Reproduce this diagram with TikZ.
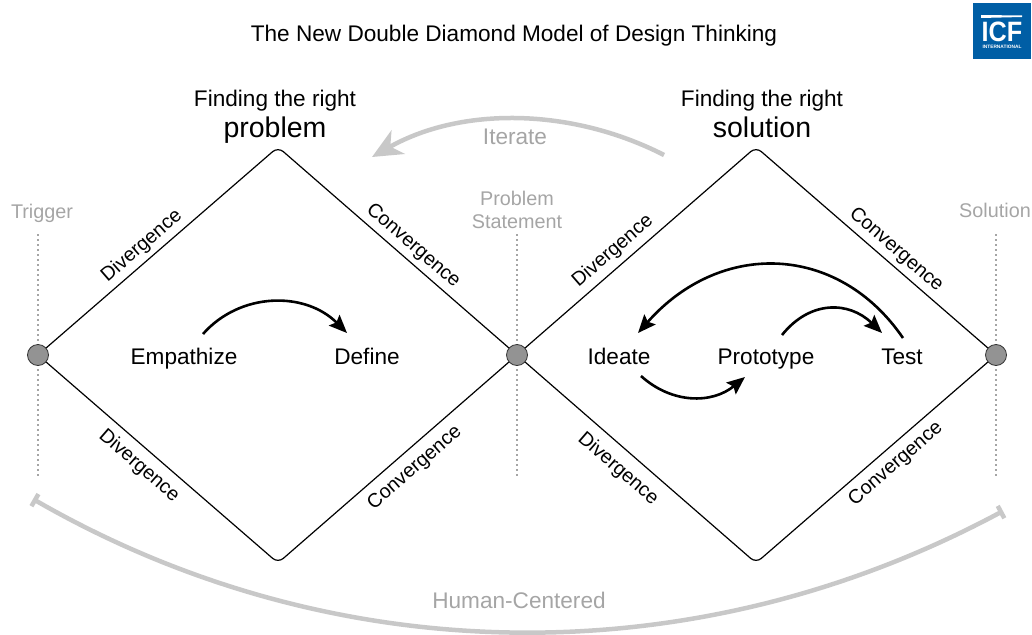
\documentclass[tikz,border=0pt]{standalone}
\usepackage{fontspec}
\setmainfont{Liberation Sans}
\usetikzlibrary{positioning,arrows,arrows.meta}
\definecolor{icfblue}{RGB}{0,94,165}
\definecolor{softgray}{RGB}{165,165,165}
\definecolor{bargray}{RGB}{200,200,200}

\begin{document}
\begin{tikzpicture}[
                x=1pt,y=-1pt,
                hub/.style={circle,draw=black!80,fill=gray!85,line width=.8pt,minimum size=21pt,inner sep=0pt},
                tag/.style={font=\fontsize{22.6}{22.6}\selectfont,inner sep=0pt},
                stage/.style={tag,anchor=base},
                head/.style={tag,align=center,text depth=6pt},
                side/.style={font=\fontsize{19.7}{19.7}\selectfont,inner sep=0pt},
                soft/.style={font=\fontsize{19.8}{23}\selectfont,text=softgray,inner sep=0pt,align=center},
                bigsoft/.style={soft,font=\fontsize{22.6}{22.6}\selectfont},
                edge/.style={line width=1.2pt,rounded corners=7pt},
                guide/.style={softgray,line width=1.3pt,dash pattern=on 1.5pt off 3.5pt},
                flow/.style={line width=2.6pt,-{Stealth[length=18pt,width=15pt,inset=3pt]}},
                sweep/.style={bargray,line width=4.5pt}
            ]
                \useasboundingbox (0,0) rectangle (1032,634);

                \node[tag] (title) at (514,36) {The New Double Diamond Model of Design Thinking};

                % logo
                \node[fill=icfblue,minimum width=58pt,minimum height=56pt,inner sep=0pt] (logo) at (1002,31) {};
                \fill[white] (981,15) -- (1022,15.5) -- (1022,17) -- (981,18) -- cycle;
                \node[text=white,inner sep=0pt,xscale=.9,font=\bfseries\fontsize{28}{28}\selectfont] (icf) at (1002,32) {ICF};
                \node[text=white,inner sep=0pt,font=\bfseries\fontsize{4.8}{4.8}\selectfont] (intl) at (1002,47) {INTERNATIONAL};

                % hubs and corners
                \coordinate (top1) at (278,147);
                \coordinate (bot1) at (278,563);
                \coordinate (top2) at (756,147);
                \coordinate (bot2) at (756,563);
                \coordinate (h1) at (38,355);
                \coordinate (h2) at (517,355);
                \coordinate (h3) at (996,355);

                % guides
                \coordinate (g1a) at (38,234);  \coordinate (g1b) at (38,476);
                \coordinate (g2a) at (517,234); \coordinate (g2b) at (517,476);
                \coordinate (g3a) at (996,234); \coordinate (g3b) at (996,476);
                \draw[guide] (g1a) -- (g1b);
                \draw[guide] (g2a) -- (g2b);
                \draw[guide] (g3a) -- (g3b);

                \draw[edge] (h1) -- (top1) -- (h2) -- (bot1) -- cycle;
                \draw[edge] (h2) -- (top2) -- (h3) -- (bot2) -- cycle;

                \node[hub] (n1) at (h1) {};
                \node[hub] (n2) at (h2) {};
                \node[hub] (n3) at (h3) {};

                % edge labels
                \node[side,rotate=-41] (c1) at (413,246) {Convergence};
                \node[side,rotate=-41] (c2) at (896,250) {Convergence};
                \node[side,rotate=41]  (d1) at (142,246) {Divergence};
                \node[side,rotate=41]  (d2) at (613,251) {Divergence};
                \node[side,rotate=-41] (d3) at (139,466) {Divergence};
                \node[side,rotate=-41] (d4) at (618,469) {Divergence};
                \node[side,rotate=41]  (c3) at (415,468) {Convergence};
                \node[side,rotate=41]  (c4) at (896,464) {Convergence};

                % headings
                \node[head] (head1) at (275,117) {Finding the right\\[5pt]{\fontsize{28.5}{28.5}\selectfont problem}};
                \node[head] (head2) at (762,117) {Finding the right\\[5pt]{\fontsize{28.5}{28.5}\selectfont solution}};

                \node[soft] (trigger) at (42,213) {Trigger};
                \node[soft] (stmt) at (517,210) {Problem\\Statement};
                \node[soft] (sol) at (995,210) {Solution};
                \node[bigsoft] (iter) at (515,137) {Iterate};
                \node[bigsoft] (human) at (519,600) {Human-Centered};

                % stages
                \node[stage] (emp) at (184,364) {Empathize};
                \node[stage] (def) at (367,364) {Define};
                \node[stage] (ide) at (619,364) {Ideate};
                \node[stage] (pro) at (766,364) {Prototype};
                \node[stage] (tst) at (902,364) {Test};

                % loops
                \coordinate (e1) at (203,334);  \coordinate (e2) at (347,333);
                \coordinate (i1) at (641,376);  \coordinate (i2) at (745,377);
                \coordinate (p1) at (782,335);  \coordinate (p2) at (882,333);
                \coordinate (t1) at (903,338);  \coordinate (t2) at (638,333);
                \draw[flow] (e1) .. controls (240,292) and (305,291) .. (e2);
                \draw[flow] (i1) .. controls (672,404) and (712,404) .. (i2);
                \draw[flow] (p1) .. controls (810,300) and (849,301) .. (p2);
                \draw[flow] (t1) .. controls (838,243) and (720,240) .. (t2);

                % iterate and human centered
                \coordinate (it1) at (664,155); \coordinate (it2) at (372,157);
                \draw[sweep,-{Stealth[length=30pt,width=27pt,inset=9pt]}] (it1) .. controls (570,107) and (460,107) .. (it2);
                \coordinate (hc1) at (33,499);  \coordinate (hc2) at (1003,511);
                \draw[sweep,{Bar[width=14pt,length=0pt]}-{Bar[width=14pt,length=0pt]}] (hc1) .. controls (330,670) and (690,679) .. (hc2);
            \end{tikzpicture}
\end{document}
